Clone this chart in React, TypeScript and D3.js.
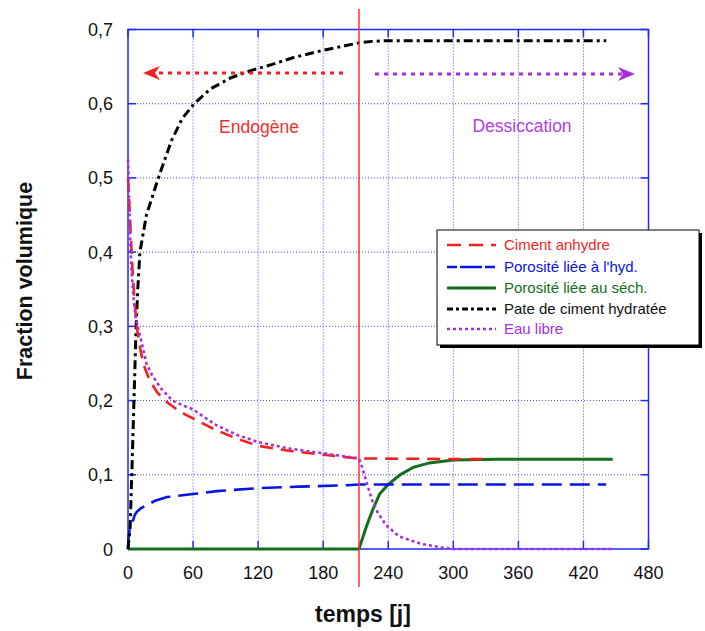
import React from "react";
import * as d3 from "d3";

// ---- data (t in days, value = volume fraction) ----
const xTicks = [0, 60, 120, 180, 240, 300, 360, 420, 480];
const yTicks = [0, 0.1, 0.2, 0.3, 0.4, 0.5, 0.6, 0.7];
const tSwitch = 213;

const cimentAnhydre: [number, number][] = [
  [0, 0.5], [1, 0.47], [2, 0.44], [4, 0.38], [6, 0.335], [8, 0.3], [11, 0.272], [14, 0.25],
  [20, 0.227], [27, 0.211], [34, 0.2], [45, 0.188], [53, 0.181], [60, 0.176], [80, 0.161],
  [100, 0.149], [120, 0.139], [150, 0.132], [180, 0.127], [213, 0.122], [332, 0.121],
];
const porositeHyd: [number, number][] = [
  [0, 0], [0.5, 0.015], [1.5, 0.026], [3.5, 0.033], [6, 0.045], [8, 0.05], [12, 0.055],
  [16, 0.058], [25, 0.065], [36, 0.07], [60, 0.074], [82, 0.078], [121, 0.082], [158, 0.084],
  [202, 0.086], [213, 0.087], [441, 0.087],
];
const porositeSech: [number, number][] = [
  [0, 0], [213, 0], [220, 0.031], [226, 0.054], [232, 0.074], [240, 0.087], [251, 0.1],
  [263, 0.11], [278, 0.116], [300, 0.12], [340, 0.121], [447, 0.121],
];
const pateHydratee: [number, number][] = [
  [0, 0], [2, 0.03], [3, 0.08], [3.5, 0.1], [4.5, 0.15], [5.5, 0.2], [6.5, 0.25], [7.5, 0.3],
  [9, 0.35], [11, 0.4], [17, 0.45], [28, 0.5], [40, 0.55], [50, 0.58], [61, 0.6], [76, 0.62],
  [95, 0.635], [114, 0.645], [133, 0.653], [152, 0.662], [180, 0.672], [200, 0.678],
  [213, 0.682], [225, 0.684], [240, 0.685], [441, 0.685],
];
const eauLibre: [number, number][] = [
  [0, 0.525], [1, 0.47], [2, 0.42], [3, 0.38], [5, 0.34], [7, 0.313], [9, 0.3], [12, 0.282],
  [17, 0.25], [22, 0.235], [30, 0.217], [41, 0.2], [50, 0.194], [60, 0.188], [80, 0.168],
  [100, 0.154], [120, 0.144], [150, 0.135], [180, 0.129], [213, 0.122], [216, 0.11],
  [220, 0.09], [225, 0.066], [230, 0.05], [238, 0.032], [250, 0.017], [270, 0.007],
  [290, 0.002], [300, 0], [447, 0],
];

const seriesNames = [
  "Ciment anhydre",
  "Porosité liée à l'hyd.",
  "Porosité liée au séch.",
  "Pate de ciment hydratée",
  "Eau libre",
];

const W = 705;
const H = 631;
const L = 128, R = 648.5, T = 29.5, B = 549;

const FONT = "'Liberation Sans', Arial, sans-serif";
const RED = "#f51f1f";
const BLUE = "#0a14e6";
const GREEN = "#146e1e";
const PURPLE = "#a52fdc";
const FRAME = "#1e28ff";

export default function App() {
  const x = d3.scaleLinear().domain([0, 480]).range([L, R]);
  const y = d3.scaleLinear().domain([0, 0.7]).range([B, T]);
  const line = d3.line<[number, number]>().x((d) => x(d[0])).y((d) => y(d[1]));

  const styles = [
    { data: cimentAnhydre, color: RED, dash: "13 8", w: 2.6 },
    { data: porositeHyd, color: BLUE, dash: "20 8", w: 2.6 },
    { data: porositeSech, color: GREEN, dash: "none", w: 3 },
    { data: pateHydratee, color: "#000", dash: "9 4 3 4", w: 3 },
    { data: eauLibre, color: PURPLE, dash: "3 3", w: 2.6 },
  ];
  const drawOrder = [2, 1, 3, 0, 4];

  const fmt = (v: number) => (v === 0 ? "0" : d3.format(".1f")(v).replace(".", ","));

  const legX = 437, legY = 230, legW = 262, legH = 115;
  const rowY = [245, 267, 288, 309, 329];

  return (
    <svg width={W} height={H} style={{ position: "absolute", left: 0, top: 0, background: "#fff" }}>
      <rect x={0} y={0} width={W} height={H} fill="#fff" />
      {/* grid */}
      {xTicks.slice(1, -1).map((t) => (
        <line key={"gx" + t} x1={x(t)} x2={x(t)} y1={T} y2={B} stroke="#3c46ff" strokeWidth={1} strokeDasharray="1 2" />
      ))}
      {yTicks.slice(1, -1).map((t) => (
        <line key={"gy" + t} x1={L} x2={R} y1={y(t)} y2={y(t)} stroke="#3c46ff" strokeWidth={1} strokeDasharray="1 2" />
      ))}
      {/* ticks */}
      {xTicks.map((t) => (
        <g key={"tx" + t}>
          <line x1={x(t)} x2={x(t)} y1={B} y2={B - 8} stroke={FRAME} strokeWidth={1.5} />
          <line x1={x(t)} x2={x(t)} y1={T} y2={T + 8} stroke={FRAME} strokeWidth={1.5} />
          <text x={x(t)} y={579} textAnchor="middle" fontFamily={FONT} fontSize={18} fill="#111">
            {t}
          </text>
        </g>
      ))}
      {yTicks.map((t) => (
        <g key={"ty" + t}>
          <line x1={L} x2={L + 8} y1={y(t)} y2={y(t)} stroke={FRAME} strokeWidth={1.5} />
          <line x1={R} x2={R - 8} y1={y(t)} y2={y(t)} stroke={FRAME} strokeWidth={1.5} />
          <text x={113} y={y(t) + 6.5} textAnchor="end" fontFamily={FONT} fontSize={18} fill="#111">
            {fmt(t)}
          </text>
        </g>
      ))}
      {/* frame */}
      <rect x={L} y={T} width={R - L} height={B - T} fill="none" stroke={FRAME} strokeWidth={1.5} />

      {/* series */}
      {drawOrder.map((i) => (
        <path
          key={"s" + i}
          d={line(styles[i].data) || ""}
          fill="none"
          stroke={styles[i].color}
          strokeWidth={styles[i].w}
          strokeDasharray={styles[i].dash}
        />
      ))}

      {/* switch line */}
      <line x1={x(tSwitch)} x2={x(tSwitch)} y1={9} y2={587} stroke="#ff3030" strokeWidth={1.5} />

      {/* arrows */}
      <line x1={150} x2={345} y1={73} y2={73} stroke={RED} strokeWidth={3} strokeDasharray="4 5" />
      <path d="M143,73 L160,66 L155,73 L160,80 Z" fill={RED} />
      <line x1={375} x2={622} y1={74} y2={74} stroke={PURPLE} strokeWidth={3} strokeDasharray="4 5" />
      <path d="M635,74 L618,67 L623,74 L618,81 Z" fill={PURPLE} />

      <text x={259} y={133} textAnchor="middle" fontFamily={FONT} fontSize={17.5} fill="#f03030">
        Endogène
      </text>
      <text x={522} y={132} textAnchor="middle" fontFamily={FONT} fontSize={17.5} fill="#b040e0">
        Dessiccation
      </text>

      {/* legend */}
      <rect x={legX + 3} y={legY + 3} width={legW} height={legH} fill="#000" />
      <rect x={legX} y={legY} width={legW} height={legH} fill="#fff" stroke="#000" strokeWidth={1} />
      {seriesNames.map((n, i) => (
        <g key={"lg" + i}>
          <line
            x1={447}
            x2={496}
            y1={rowY[i]}
            y2={rowY[i]}
            stroke={styles[i].color}
            strokeWidth={styles[i].w}
            strokeDasharray={i === 0 ? "14 8" : i === 1 ? "10 3 22 3" : i === 3 ? "6 3 3 3" : styles[i].dash}
          />
          <text x={504} y={rowY[i] + 5} fontFamily={FONT} fontSize={15} fill={styles[i].color === "#000" ? "#111" : styles[i].color}>
            {n}
          </text>
        </g>
      ))}

      {/* axis titles */}
      <text
        transform={`translate(32,281) rotate(-90)`}
        textAnchor="middle"
        fontFamily={FONT}
        fontSize={21.5}
        fontWeight="bold"
        fill="#111"
      >
        Fraction volumique
      </text>
      <text x={363} y={622} textAnchor="middle" fontFamily={FONT} fontSize={23} fontWeight="bold" fill="#111">
        temps [j]
      </text>
    </svg>
  );
}
